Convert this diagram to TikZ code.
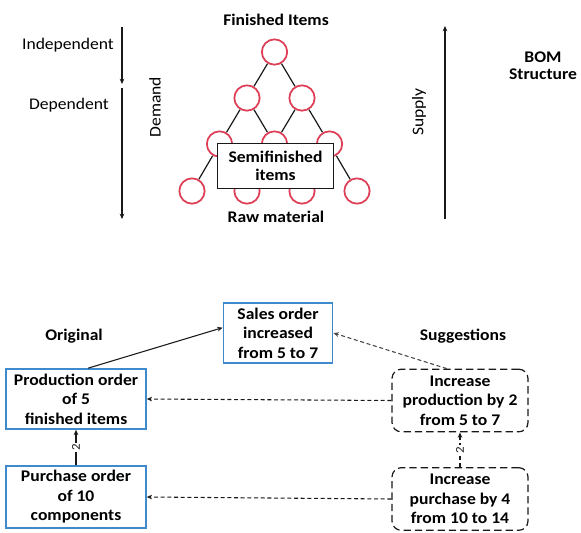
\documentclass[tikz,border=0pt]{standalone}
\usepackage{fontspec}
\setmainfont[FakeStretch=1.08]{Carlito}
\usepackage{tikz}
\usetikzlibrary{arrows.meta, positioning, calc, backgrounds}
\definecolor{myred}{RGB}{222,62,86}
\definecolor{myblue}{RGB}{62,138,204}
\definecolor{mydark}{RGB}{25,25,25}
\definecolor{mygray}{RGB}{70,70,70}
\newcommand{\bomfont}{\fontsize{12.2}{14.6}\selectfont}
\tikzset{
  item/.style={circle, draw=myred, fill=white, minimum size=19pt,
    inner sep=0pt, line width=1.3pt},
  semibox/.style={rectangle, draw=mydark, fill=white, align=center,
    minimum width=87pt, minimum height=34pt, line width=0.8pt,
    font=\fontsize{12.2}{13.5}\selectfont\bfseries},
  orderbox/.style={rectangle, draw=myblue, fill=white, align=center,
    minimum height=45pt, line width=1.2pt, font=\bomfont\bfseries},
  suggbox/.style={rectangle, draw=mydark, dash pattern=on 5.5pt off 3pt,
    fill=white, align=center, minimum width=102pt, minimum height=47pt,
    rounded corners=7pt, line width=0.9pt, font=\bomfont\bfseries},
  title/.style={font=\bomfont\bfseries, align=center},
  arrow/.style={-{Stealth[length=4pt,width=3.5pt]}, line width=0.8pt, color=mydark},
  dasharrow/.style={-{Stealth[length=4pt,width=3.5pt]}, line width=0.8pt,
    color=mydark, dash pattern=on 3pt off 2pt},
  edge/.style={line width=0.9pt, color=mydark},
  qty/.style={midway, sloped, fill=white, inner sep=1pt,
    font=\fontsize{9}{10}\selectfont}
}

\begin{document}
\begin{tikzpicture}[x=0.75pt, y=-0.75pt, font=\bomfont]
  \useasboundingbox (0,0) rectangle (581,532);

  % BOM tree
  \node[title] (fin) at (276, 20) {Finished Items};
  \node[item] (c1)  at (274.5, 52) {};
  \node[item] (c21) at (247, 98) {};
  \node[item] (c22) at (302, 98) {};
  \node[item] (c31) at (219.5, 144) {};
  \node[item] (c32) at (274.5, 144) {};
  \node[item] (c33) at (329.5, 144) {};
  \node[item] (c41) at (192, 191) {};
  \node[item] (c42) at (247, 191) {};
  \node[item] (c43) at (302, 191) {};
  \node[item] (c44) at (357, 191) {};
  \begin{scope}[on background layer]
    \draw[edge] (c1) -- (c21) (c1) -- (c22);
    \draw[edge] (c21) -- (c31) (c21) -- (c32) (c22) -- (c32) (c22) -- (c33);
    \draw[edge] (c31) -- (c41) (c31) -- (c42) (c32) -- (c42);
    \draw[edge] (c32) -- (c43) (c33) -- (c43) (c33) -- (c44);
  \end{scope}
  \node[semibox] (semi) at (275.5, 166) {Semifinished\\items};
  \node[title] (raw) at (276, 217) {Raw material};

  % Demand side
  \coordinate (d0) at (122, 27);
  \coordinate (d1) at (122, 84);
  \coordinate (d2) at (122, 88);
  \coordinate (d3) at (122, 219);
  \draw[arrow] (d0) -- (d1);
  \draw[arrow] (d2) -- (d3);
  \node (indep) at (68, 45) {Independent};
  \node (dep) at (69, 105) {Dependent};
  \node[rotate=90] (demand) at (155, 107) {Demand};

  % Supply side
  \coordinate (s0) at (445, 219);
  \coordinate (s1) at (445, 26);
  \draw[arrow] (s0) -- (s1);
  \node[rotate=90] (supply) at (419, 112) {Supply};
  \node[title] (bom) at (543, 66) {BOM\\[-2pt]Structure};

  % Orders
  \node[orderbox, minimum width=82pt] (sales) at (278, 333)
    {Sales order\\increased\\from 5 to 7};
  \node[orderbox, minimum width=105pt] (prod) at (76, 399)
    {Production order\\of 5\\finished items};
  \node[orderbox, minimum width=105pt] (purch) at (76, 497)
    {Purchase order\\of 10\\components};
  \node[title] (orig) at (74, 336) {Original};
  \node[title] (sugg) at (463, 336) {Suggestions};

  % Suggestions
  \node[suggbox] (incprod) at (460, 400.5)
    {Increase\\production by 2\\from 5 to 7};
  \node[suggbox] (incpurch) at (460, 499)
    {Increase\\purchase by 4\\from 10 to 14};

  % Connectors
  \draw[arrow] ([xshift=9pt]prod.north) -- ([yshift=4pt]sales.west);
  \draw[arrow] (purch.north) -- (prod.south) node[qty] {2};
  \draw[dasharrow, color=mygray] ([xshift=-10pt]incprod.north) -- (sales.east);
  \draw[dasharrow] (incprod.west) -- (prod.east);
  \draw[dasharrow] (incpurch.west) -- (purch.east);
  \draw[dasharrow] (incpurch.north) -- (incprod.south) node[qty] {2};
\end{tikzpicture}
\end{document}
